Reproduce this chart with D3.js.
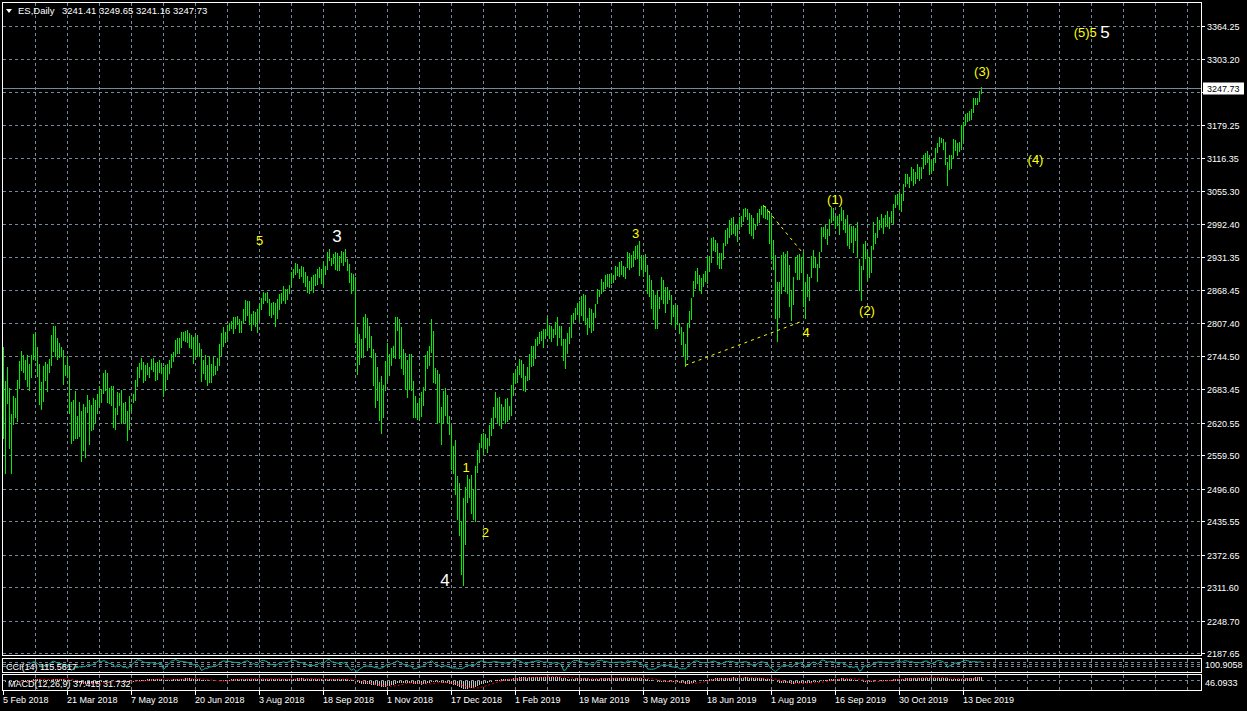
<!DOCTYPE html>
<html><head><meta charset="utf-8">
<script src="https://cdn.jsdelivr.net/npm/d3@7"></script>
<style>
html,body{margin:0;padding:0;background:#000;}
svg{display:block;font-family:"Liberation Sans",Arial,sans-serif;}
</style></head>
<body>
<svg id="c" width="1247" height="711"></svg>
<script>
// ---------- DATA ----------
const symbol = "ES,Daily";
const headerValues = "3241.41 3249.65 3241.16 3247.73";
const lastPrice = 3247.73;

const highs = [
2763,2699,2725,2685,2637,2671,2667,2701,2736,2755,
2748,2738,2748,2731,2748,2787,2791,2763,2731,2697,
2727,2735,2731,2740,2785,2801,2802,2780,2769,2763,
2757,2729,2746,2727,2659,2663,2680,2633,2659,2642,
2656,2650,2672,2663,2654,2667,2663,2674,2689,2682,
2714,2720,2714,2686,2689,2689,2648,2678,2676,2682,
2657,2659,2642,2671,2656,2674,2701,2725,2733,2742,
2735,2729,2733,2725,2740,2742,2733,2735,2737,2733,
2725,2729,2731,2737,2750,2753,2776,2780,2780,2791,
2791,2793,2795,2789,2785,2782,2785,2785,2770,2759,
2738,2748,2728,2746,2730,2743,2727,2741,2767,2789,
2799,2791,2803,2808,2811,2818,2819,2821,2814,2811,
2833,2850,2849,2849,2824,2830,2828,2833,2843,2855,
2865,2863,2865,2852,2845,2846,2845,2853,2861,2863,
2876,2871,2871,2878,2903,2908,2920,2918,2908,2915,
2913,2903,2895,2886,2893,2897,2899,2908,2913,2908,
2921,2915,2941,2947,2930,2936,2940,2938,2933,2943,
2940,2946,2927,2918,2902,2899,2893,2799,2786,2777,
2819,2824,2816,2801,2783,2758,2751,2724,2696,2708,
2691,2736,2769,2749,2761,2764,2818,2818,2814,2799,
2758,2751,2738,2749,2749,2699,2671,2657,2667,2677,
2688,2747,2755,2764,2814,2793,2722,2719,2711,2649,
2680,2686,2672,2633,2614,2577,2588,2520,2508,2436,
2479,2499,2522,2514,2522,2495,2539,2569,2582,2599,
2601,2599,2592,2616,2630,2649,2677,2667,2669,2655,
2649,2664,2667,2652,2691,2713,2718,2727,2739,2738,
2730,2707,2724,2749,2764,2764,2777,2782,2791,2793,
2797,2796,2816,2803,2802,2797,2809,2819,2802,2801,
2778,2778,2788,2799,2822,2826,2836,2844,2849,2858,
2862,2860,2816,2836,2833,2826,2843,2872,2869,2890,
2884,2897,2899,2899,2902,2897,2915,2913,2922,2924,
2915,2913,2940,2938,2935,2942,2952,2954,2961,2935,
2932,2936,2916,2897,2888,2869,2860,2869,2857,2894,
2888,2875,2875,2869,2860,2841,2841,2841,2807,2800,
2791,2767,2807,2830,2854,2886,2905,2910,2897,2892,
2900,2904,2932,2934,2966,2969,2963,2957,2938,2938,
2957,2982,2986,3001,3005,3007,2992,2991,3007,3009,
3022,3024,3021,3013,3010,3004,2994,3013,3022,3027,
3029,3027,3022,3017,3010,2963,2935,2885,2885,2935,
2941,2936,2942,2916,2869,2894,2932,2935,2936,2932,
2941,2884,2900,2893,2933,2944,2932,2918,2941,2988,
2988,2992,2983,3003,3025,3024,3008,3008,3012,3025,
3020,3002,3010,2992,2990,2990,2986,2996,2928,2914,
2956,2962,2945,2932,2952,2996,2976,3006,3000,3011,
3004,3010,3018,3007,3017,3030,3047,3050,3053,3049,
3069,3087,3087,3081,3101,3097,3091,3105,3100,3101,
3123,3127,3130,3122,3113,3115,3136,3145,3157,3155,
3153,3147,3110,3123,3122,3153,3151,3145,3147,3179,
3185,3200,3201,3205,3209,3229,3230,3229,3243,3249.65
];
const lows = [
2594,2528,2660,2575,2528,2619,2633,2625,2688,2721,
2718,2704,2691,2683,2708,2742,2740,2710,2658,2647,
2663,2703,2681,2718,2731,2757,2748,2742,2745,2748,
2695,2712,2707,2641,2584,2590,2593,2593,2597,2550,
2571,2558,2643,2583,2608,2611,2623,2640,2654,2661,
2678,2684,2661,2659,2655,2614,2610,2639,2655,2622,
2622,2623,2590,2610,2645,2661,2665,2691,2708,2723,
2699,2703,2714,2708,2723,2720,2703,2704,2718,2716,
2672,2684,2704,2716,2727,2738,2748,2752,2752,2765,
2778,2776,2774,2765,2763,2735,2748,2748,2748,2700,
2716,2705,2693,2699,2699,2711,2714,2721,2730,2749,
2766,2774,2777,2796,2799,2791,2799,2808,2793,2793,
2810,2814,2824,2808,2797,2808,2803,2793,2814,2836,
2846,2852,2849,2824,2821,2827,2804,2818,2836,2846,
2852,2847,2855,2865,2878,2895,2902,2905,2893,2897,
2886,2878,2868,2866,2871,2868,2880,2883,2896,2885,
2878,2902,2911,2927,2918,2921,2910,2908,2908,2924,
2918,2926,2908,2886,2866,2872,2774,2714,2733,2746,
2746,2783,2758,2764,2746,2693,2652,2664,2627,2603,
2633,2683,2702,2711,2730,2746,2743,2796,2743,2724,
2714,2686,2671,2686,2683,2632,2633,2630,2628,2634,
2655,2683,2724,2730,2755,2699,2697,2622,2624,2583,
2621,2636,2621,2600,2536,2527,2489,2442,2411,2339,
2317,2395,2474,2483,2452,2442,2438,2530,2549,2577,
2564,2574,2567,2580,2599,2613,2633,2624,2617,2613,
2627,2622,2626,2630,2636,2674,2696,2699,2713,2708,
2684,2682,2702,2705,2728,2730,2744,2768,2771,2777,
2764,2782,2786,2782,2776,2783,2789,2768,2783,2768,
2739,2724,2752,2771,2783,2811,2816,2826,2814,2824,
2814,2807,2789,2802,2793,2796,2821,2847,2860,2866,
2869,2875,2879,2877,2884,2886,2891,2899,2897,2902,
2897,2894,2915,2910,2915,2916,2929,2932,2900,2910,
2897,2907,2866,2860,2838,2816,2800,2800,2838,2854,
2847,2830,2846,2854,2807,2822,2802,2807,2791,2769,
2750,2728,2741,2802,2816,2860,2874,2884,2872,2866,
2879,2888,2884,2907,2924,2946,2944,2919,2913,2913,
2929,2955,2960,2971,2977,2979,2974,2963,2985,2991,
3001,3010,3005,2979,2974,2969,2986,2994,2999,3013,
3009,3007,3005,2960,2930,2911,2819,2775,2821,2866,
2879,2869,2866,2841,2815,2844,2904,2892,2892,2904,
2841,2818,2860,2853,2895,2915,2914,2888,2915,2945,
2972,2968,2957,2975,2998,3003,2988,2993,2976,3002,
2985,2980,2955,2950,2962,2942,2965,2935,2872,2853,
2910,2932,2890,2895,2905,2948,2960,2970,2985,2990,
2978,2992,2992,2988,2998,2997,3026,3033,3023,3020,
3040,3067,3071,3064,3078,3068,3072,3081,3078,3081,
3100,3107,3111,3088,3092,3097,3112,3130,3141,3148,
3136,3108,3069,3098,3100,3118,3133,3124,3132,3136,
3152,3180,3189,3190,3192,3205,3220,3221,3226,3241.16
];

const dateLabels = ["5 Feb 2018","21 Mar 2018","7 May 2018","20 Jun 2018","3 Aug 2018",
  "18 Sep 2018","1 Nov 2018","17 Dec 2018","1 Feb 2019","19 Mar 2019","3 May 2019",
  "18 Jun 2019","1 Aug 2019","16 Sep 2019","30 Oct 2019","13 Dec 2019"];
// grid levels; the 3241.30 level's label is hidden behind the current-price box
const priceTicks = [2187.65,2248.70,2311.60,2372.65,2435.55,2496.60,2559.50,2620.55,2683.45,
  2744.50,2807.40,2868.45,2931.35,2992.40,3055.30,3116.35,3179.25,3241.30,3303.20,3364.25];
const hiddenTick = 3241.30;

// wave annotations: text, bar index, price, kind
const waveText  = ["5","3","4","1","2","3","4","(1)","(2)","(3)","(4)","(5)5","5"];
const waveBar   = [128,166.8,220.75,231.25,240.9,316.1,401.25,415.75,431.75,489.25,516,540.9,550.75];
const wavePrice = [2964,2971.5,2326,2538,2415.5,2976,2791,3041,2832.7,3281.2,3115.5,3353,3354.4];
const waveKind  = ["y","w","w","y","y","y","y","y","y","y","y","y","w"];

// trendlines: [bar1, price1, bar2, price2]
const trendLines = [[341,2729,400,2812.6],[380,3029,400,2938]];

const cciLabel = "CCI(14) 115.5617";
const macdLabel = "MACD(12,26,9) 37.415 31.732";
const cciScaleLabel = "100.9058";
const macdScaleLabel = "46.0933";

// ---------- DRAW ----------
const svg = d3.select("#c");
const GRID = "#778899", BAR = "#00ee00", YEL = "#ffff00";
svg.append("rect").attr("width",1247).attr("height",711).attr("fill","#000");

const N = highs.length;
const x = d3.scaleLinear().domain([0,599]).range([3.5,1201.5]);
const y = d3.scaleLinear().domain([2183.4,3414.4]).range([656,0]);
const px = i => Math.floor(x(i)) + 0.5;
const py = v => Math.floor(y(v)) + 0.5;

const main = svg.append("g").attr("shape-rendering","crispEdges");
const vIdx = d3.range(16, 599, 16);
const panes = [[3,655],[659,672],[675,690]];
panes.forEach(([a,b]) => {
  main.selectAll(null).data(vIdx).enter().append("line")
    .attr("x1",px).attr("x2",px).attr("y1",a).attr("y2",b)
    .attr("stroke",GRID).attr("stroke-dasharray","3,3");
});
main.selectAll(null).data(priceTicks).enter().append("line")
  .attr("x1",3).attr("x2",1201).attr("y1",py).attr("y2",py)
  .attr("stroke",GRID).attr("stroke-dasharray","3,3");

svg.append("clipPath").attr("id","mc").append("rect")
  .attr("x",3).attr("y",3).attr("width",1198).attr("height",652);
main.append("g").attr("clip-path","url(#mc)")
  .selectAll("line").data(d3.range(N)).enter().append("line")
  .attr("x1",px).attr("x2",px)
  .attr("y1",i => Math.floor(y(highs[i])))
  .attr("y2",i => Math.ceil(y(lows[i]))+1)
  .attr("stroke",BAR).attr("stroke-width",1);

main.append("line").attr("x1",3).attr("x2",1201)
  .attr("y1",py(lastPrice)).attr("y2",py(lastPrice)).attr("stroke",GRID);

svg.selectAll(null).data(trendLines).enter().append("line")
  .attr("x1",d=>x(d[0])).attr("y1",d=>y(d[1])).attr("x2",d=>x(d[2])).attr("y2",d=>y(d[3]))
  .attr("stroke",YEL).attr("stroke-dasharray","3,4").attr("stroke-width",1);

svg.selectAll(null).data(waveText).enter().append("text")
  .attr("x",(d,i)=>x(waveBar[i])).attr("y",(d,i)=>y(wavePrice[i]))
  .attr("dy","0.36em").attr("text-anchor","middle")
  .attr("fill",(d,i)=>waveKind[i]==="w"?"#ffffff":YEL)
  .attr("font-size",(d,i)=>waveKind[i]==="w"?"17px":"13px")
  .text(d=>d);

// ---------- indicators (derived from the bars) ----------
const mid = highs.map((h,i)=>(h+lows[i])/2);
const cci = mid.map((v,i)=>{
  if (i<13) return null;
  const w = mid.slice(i-13,i+1), m = d3.mean(w);
  const md = d3.mean(w, t=>Math.abs(t-m));
  return md===0?0:(v-m)/(0.015*md);
});
function ema(arr,p){const k=2/(p+1);let out=[];arr.forEach((v,i)=>out.push(i?out[i-1]+k*(v-out[i-1]):v));return out;}
const e12=ema(mid,12), e26=ema(mid,26);
const macd = mid.map((v,i)=>e12[i]-e26[i]);
const sig = macd.map((v,i)=> i<8?null:d3.mean(macd.slice(i-8,i+1)));

const cciVals = cci.filter(v=>v!==null);
const yC = d3.scaleLinear().domain(d3.extent(cciVals)).range([671.5,659.5]);
[100,0,-100].forEach(l=>{
  main.append("line").attr("x1",3).attr("x2",1201).attr("y1",Math.floor(yC(l))+0.5).attr("y2",Math.floor(yC(l))+0.5)
    .attr("stroke",GRID).attr("stroke-dasharray","3,3");
});
svg.append("path").datum(d3.range(13,N))
  .attr("d",d3.line().x(i=>x(i)).y(i=>yC(cci[i])))
  .attr("fill","none").attr("stroke","#20b2aa").attr("stroke-width",1);

const mExt = d3.extent(macd.concat(sig.filter(v=>v!==null)).concat([0]));
const yM = d3.scaleLinear().domain(mExt).range([689,676.5]);
main.append("line").attr("x1",3).attr("x2",1201).attr("y1",Math.floor(yM(0))+0.5).attr("y2",Math.floor(yM(0))+0.5)
  .attr("stroke",GRID).attr("stroke-dasharray","3,3");
main.append("g").selectAll("line").data(d3.range(N)).enter().append("line")
  .attr("x1",px).attr("x2",px).attr("y1",yM(0)).attr("y2",i=>yM(macd[i]))
  .attr("stroke","#c0c0c0");
svg.append("path").datum(d3.range(8,N))
  .attr("d",d3.line().x(i=>x(i)).y(i=>yM(sig[i])))
  .attr("fill","none").attr("stroke","#ff0000").attr("stroke-dasharray","2,2");

const bord = svg.append("g").attr("shape-rendering","crispEdges").attr("fill","none").attr("stroke","#fff");
bord.append("rect").attr("x",2.5).attr("y",2.5).attr("width",1199).attr("height",653);
bord.append("rect").attr("x",2.5).attr("y",658.5).attr("width",1199).attr("height",14);
bord.append("rect").attr("x",2.5).attr("y",674.5).attr("width",1199).attr("height",16);

// right price axis
const ax = svg.append("g").attr("font-size","9px").attr("fill","#fff");
ax.selectAll(null).data(priceTicks).enter().append("line")
  .attr("x1",1202).attr("x2",1205).attr("y1",py).attr("y2",py)
  .attr("stroke","#fff").attr("shape-rendering","crispEdges");
ax.selectAll(null).data(priceTicks.filter(v=>v!==hiddenTick)).enter().append("text")
  .attr("x",1207).attr("y",d=>py(d)+3.5).text(d=>d.toFixed(2));
const cpY = py(lastPrice);
svg.append("rect").attr("x",1203).attr("y",cpY-6).attr("width",41).attr("height",12).attr("fill","#fff");
svg.append("text").attr("x",1207).attr("y",cpY+3.5).attr("font-size","9px").attr("fill","#000").text(lastPrice.toFixed(2));

svg.append("text").attr("x",1205).attr("y",668).attr("font-size","9px").attr("fill","#fff").text(cciScaleLabel);
svg.append("text").attr("x",1205).attr("y",686).attr("font-size","9px").attr("fill","#fff").text(macdScaleLabel);

svg.append("text").attr("x",6).attr("y",670).attr("font-size","9px").attr("fill","#fff").text(cciLabel);
svg.append("text").attr("x",8).attr("y",687).attr("font-size","9px").attr("fill","#fff").text(macdLabel);

// x axis
const xt = svg.append("g").attr("font-size","9px").attr("fill","#fff");
xt.selectAll(null).data(dateLabels).enter().append("line")
  .attr("x1",(d,i)=>px(i*32)).attr("x2",(d,i)=>px(i*32)).attr("y1",691).attr("y2",695)
  .attr("stroke","#fff").attr("shape-rendering","crispEdges");
xt.selectAll(null).data(dateLabels).enter().append("text")
  .attr("x",(d,i)=>px(i*32)-0.5).attr("y",703).text(d=>d);

// header
svg.append("path").attr("d","M6,9 L12,9 L9,13 Z").attr("fill","#fff");
svg.append("text").attr("x",18).attr("y",14).attr("font-size","9.5px").attr("fill","#fff").text(symbol);
svg.append("text").attr("x",62).attr("y",14).attr("font-size","9.5px").attr("fill","#fff").text(headerValues);
</script>
</body></html>
